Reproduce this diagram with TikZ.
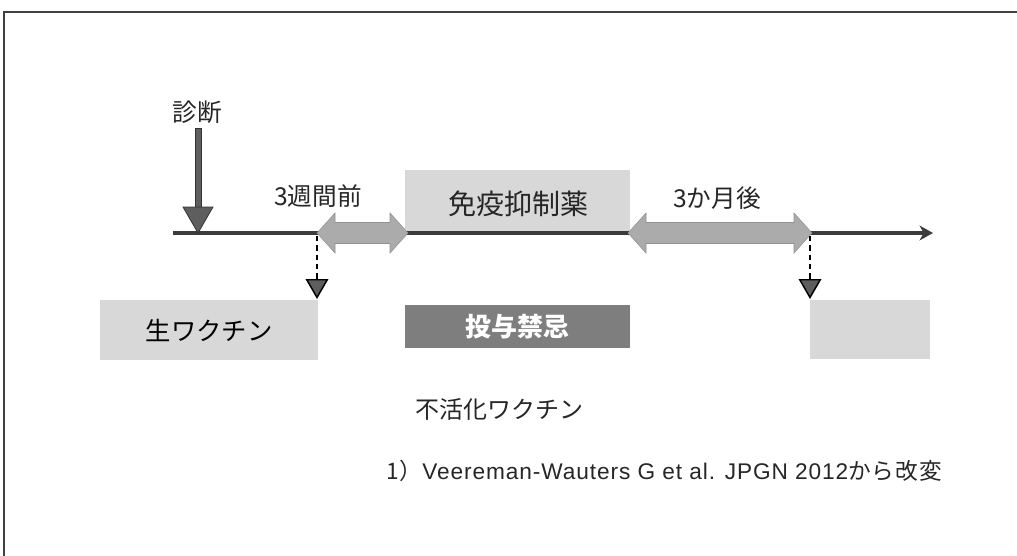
\documentclass[tikz,border=0pt]{standalone}
\usepackage{fontspec}
\setmainfont{Noto Sans CJK JP}
\newfontfamily\latinfont[LetterSpace=4]{Liberation Sans}
\newfontfamily\cjkspaced[LetterSpace=4]{Noto Sans CJK JP}
\usetikzlibrary{arrows.meta}
\definecolor{lightbox}{HTML}{D8D8D8}
\definecolor{darkbox}{HTML}{7E7E7E}
\definecolor{dblgray}{HTML}{ABABAB}
\definecolor{lineink}{HTML}{3C3C3C}
\definecolor{tri}{HTML}{5E5E5E}
\begin{document}
\begin{tikzpicture}[x=0.75pt,y=-0.75pt,
  lbl/.style={font=\fontsize{18.5}{20}\selectfont, inner sep=0pt, text=black!85},
  lightfill/.style={fill=lightbox, draw=none, inner sep=0pt},
  darkfill/.style={fill=darkbox, draw=none, inner sep=0pt, text=white, font=\bfseries\fontsize{19.5}{21}\selectfont},
  timeline/.style={draw=lineink, line width=2.4pt, -{Stealth[length=10pt,width=11pt,inset=3pt]}},
  dblarrow/.style={fill=dblgray, draw=dblgray!85!black, line width=0.4pt},
  vacc/.style={draw=black, dashed, dash pattern=on 4pt off 3pt, line width=1.1pt,
     -{Triangle[length=15pt,width=17pt,fill=tri]}},
  diagshape/.style={fill=tri, draw=black!80, line width=0.6pt}
]
\useasboundingbox (0,0) rectangle (1017,556);
% frame (top and left edges)
\draw[black!75, line width=1.2pt] (1017,12) -- (4,12) -- (4,556);

% boxes
\node[lightfill, minimum width=168.75pt, minimum height=46.5pt] (drug) at (517.5,201) {};
\node[lbl, font=\fontsize{21}{23}\selectfont] (drugtxt) at (518,204) {免疫抑制薬};
\node[darkfill, minimum width=168.75pt, minimum height=32.25pt] (ng) at (517.5,326.5) {投与禁忌};
\node[lightfill, minimum width=163.5pt, minimum height=45pt, font=\fontsize{19}{21}\selectfont] (live) at (209,330) {生ワクチン};
\node[lightfill, minimum width=90pt, minimum height=44.25pt] (liveR) at (870,329.5) {};

% timeline
\coordinate (tl0) at (173,233);
\coordinate (tl1) at (933,233);
\draw[timeline] (tl0) -- (tl1);

% double arrows
\path[dblarrow] (317,233) -- (335,213) -- (335,222.5) -- (390,222.5) -- (390,213) -- (408,233)
  -- (390,253) -- (390,243.5) -- (335,243.5) -- (335,253) -- cycle;
\path[dblarrow] (628,233) -- (646,213) -- (646,222.5) -- (794,222.5) -- (794,213) -- (812,233)
  -- (794,253) -- (794,243.5) -- (646,243.5) -- (646,253) -- cycle;

% diagnosis arrow
\node[lbl] (diag) at (197,112) {診断};
\path[diagshape] (195.5,128) rectangle (201.5,208);
\path[diagshape] (183,207) -- (213,207) -- (198,233) -- cycle;

% dashed arrows to vaccine boxes
\coordinate (v1a) at (317,236);
\coordinate (v1b) at (317,299);
\coordinate (v2a) at (810,236);
\coordinate (v2b) at (810,299);
\draw[vacc] (v1a) -- (v1b);
\draw[vacc] (v2a) -- (v2b);

% labels
\node[lbl] (wk) at (318,196) {3週間前};
\node[lbl] (mo) at (717,198) {3か月後};
\node[lbl, font=\fontsize{18}{20}\selectfont] (inact) at (499,409) {不活化ワクチン};
\node[inner sep=0pt, anchor=west, font=\fontsize{17}{19}\selectfont, text=black!85] (ref) at (386,471)
  {{\cjkspaced 1）}{\latinfont Veereman-Wauters G et al. JPGN 2012}{\cjkspaced から改変}};
\end{tikzpicture}
\end{document}
